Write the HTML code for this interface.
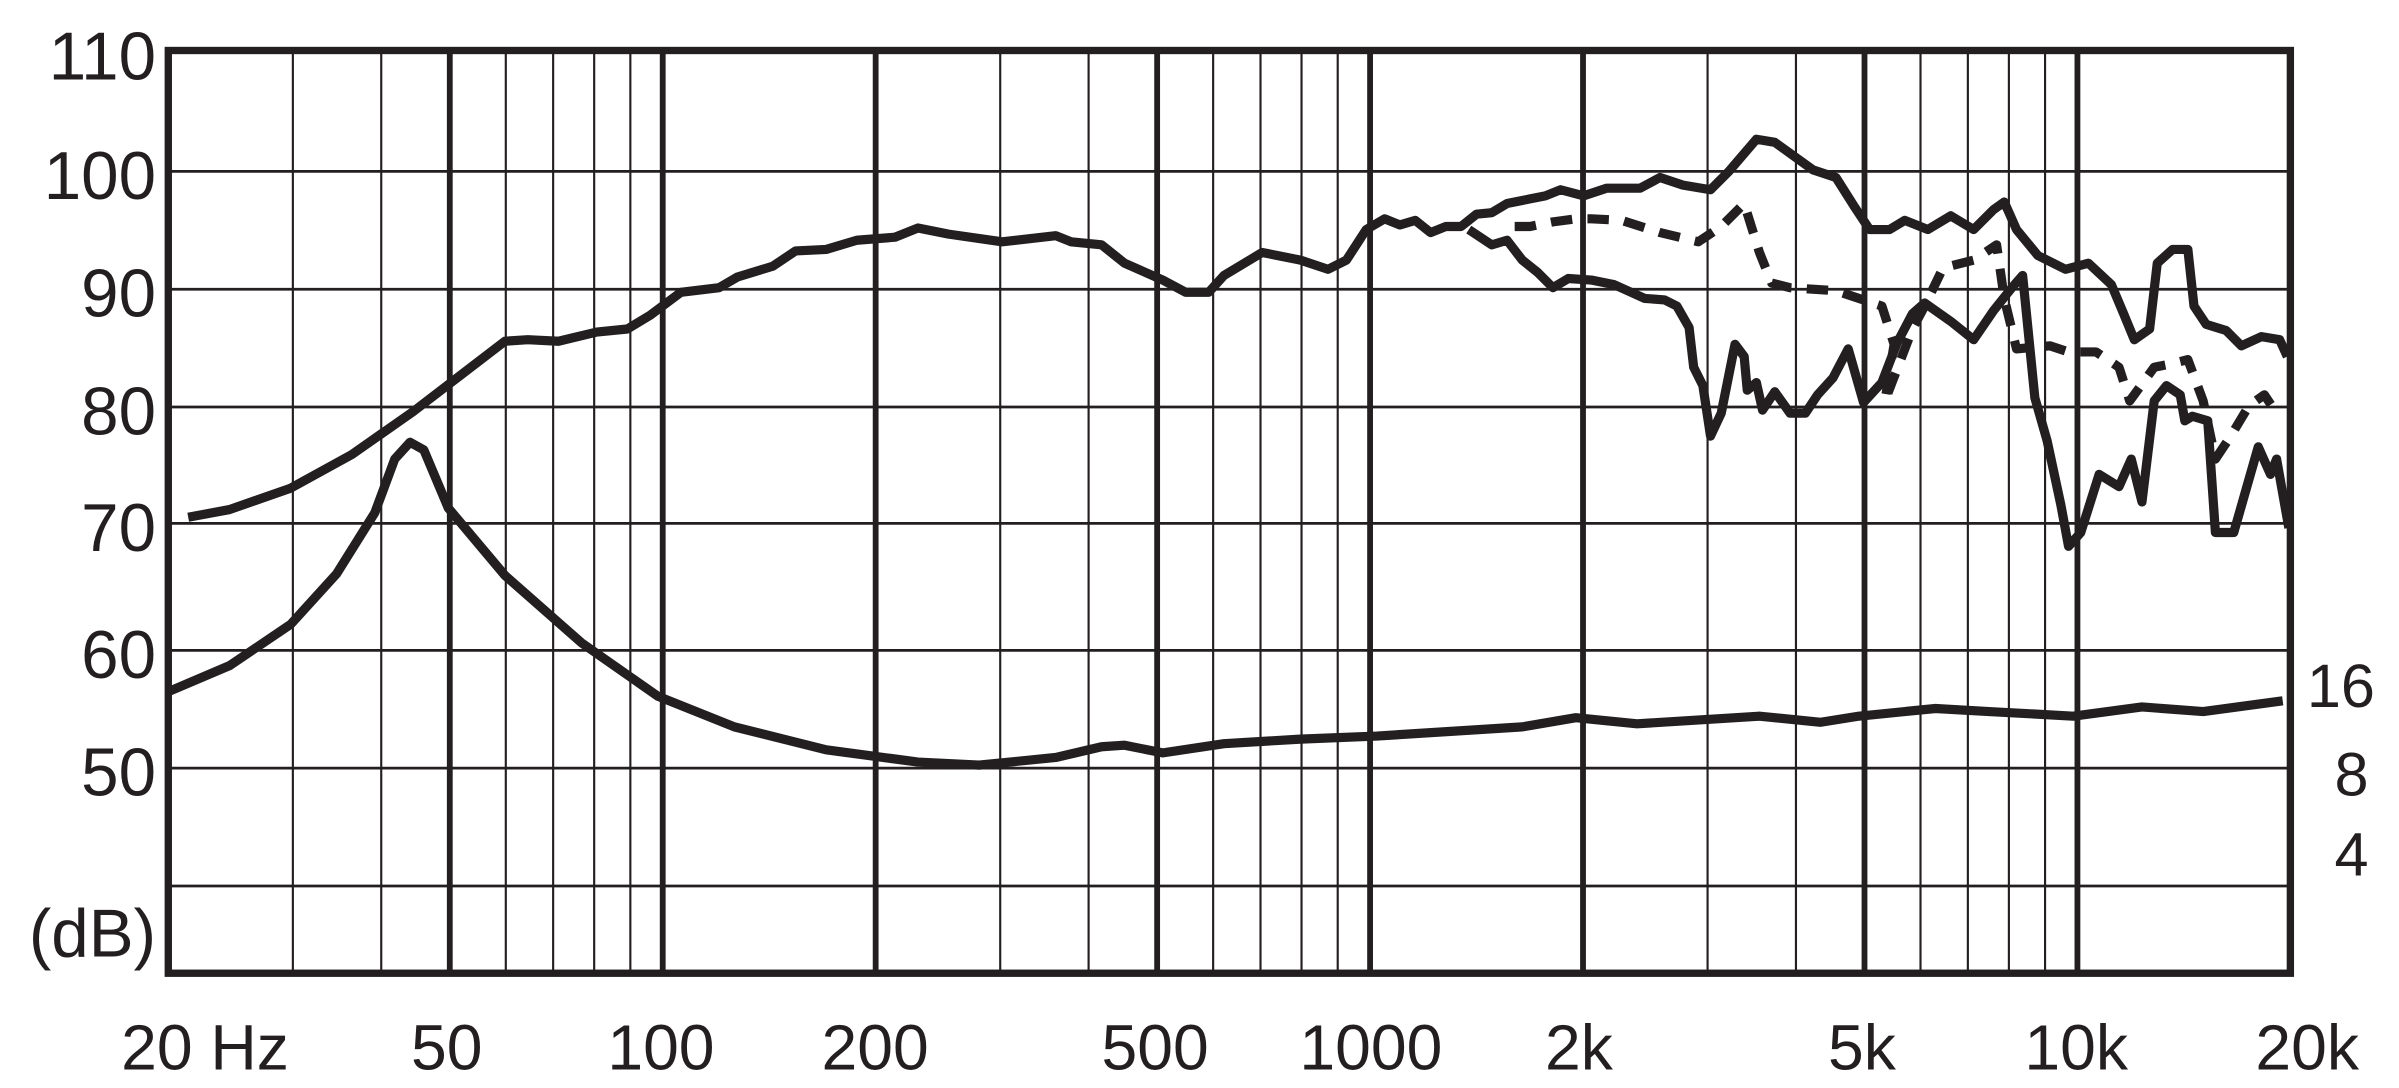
<!DOCTYPE html>
<html><head><meta charset="utf-8"><style>
html,body{margin:0;padding:0;background:#fff;}
svg{display:block;}
text{font-family:"Liberation Sans",sans-serif;fill:#231f20;}
</style></head><body>
<svg id="s" width="2399" height="1088" viewBox="0 0 1568 711" preserveAspectRatio="none" xmlns="http://www.w3.org/2000/svg">
<g id="grid" stroke="#231f20" fill="none"></g>
<g font-size="44" text-anchor="end">
<text x="102" y="52">110</text>
<text x="102" y="130">100</text>
<text x="102" y="207">90</text>
<text x="102" y="284">80</text>
<text x="102" y="360">70</text>
<text x="102" y="443">60</text>
<text x="102" y="520">50</text>
<text x="102" y="625">(dB)</text>
</g>
<g font-size="42" text-anchor="middle">
<text x="134" y="699">20 Hz</text>
<text x="292" y="699">50</text>
<text x="432" y="699">100</text>
<text x="572" y="699">200</text>
<text x="755" y="699">500</text>
<text x="896" y="699">1000</text>
<text x="1032" y="699">2k</text>
<text x="1217" y="699">5k</text>
<text x="1357" y="699">10k</text>
<text x="1508" y="699">20k</text>
</g>
<g font-size="40" text-anchor="middle">
<text x="1530" y="462">16</text>
<text x="1537" y="520">8</text>
<text x="1537" y="572">4</text>
</g>
<g fill="none" stroke="#231f20" stroke-width="6" stroke-linejoin="round" stroke-linecap="butt">
<polyline points="123,338 150,333 190,319 230,297 270,269 300,246 330,223 345,222 365,223 390,217 410,215 425,206 445,191 470,188 482,181 505,174 520,164 540,163 560,157 585,155 600,149 620,153 655,158 690,154 700,158 720,160 735,172 760,183 775,191 790,191 800,180 825,165 850,170 868,176 880,170 893,150 905,143 915,147 925,144 935,152 945,148 955,148 965,140 975,139 985,133 1000,130 1010,128 1020,124 1035,128 1050,123 1072,123 1085,116 1100,121 1118,124 1130,112 1148,91 1160,93 1185,111 1200,116 1212,135 1222,150 1235,150 1245,144 1260,150 1275,141 1290,150 1303,137 1310,132 1318,150 1332,167 1350,176 1365,172 1380,186 1388,205 1395,222 1405,215 1410,172 1420,163 1430,163 1434,200 1442,212 1455,216 1465,226 1478,220 1490,222 1495,233"/>
<polyline points="960,150 975,160 985,157 995,170 1005,178 1015,188 1025,182 1040,183 1055,186 1075,195 1088,196 1096,200 1104,214 1107,240 1113,252 1118,285 1125,270 1130,245 1134,225 1140,233 1142,255 1148,250 1152,268 1160,256 1170,270 1180,270 1188,258 1198,247 1208,228 1218,263 1230,250 1240,224 1250,205 1258,198 1275,210 1290,222 1303,203 1315,188 1322,180 1330,260 1338,288 1347,330 1352,357 1360,348 1372,310 1385,318 1393,300 1400,328 1408,262 1416,252 1425,258 1428,275 1433,272 1443,275 1448,348 1460,348 1468,320 1476,292 1484,310 1488,300 1496,345"/>
<polyline stroke-dasharray="14 10" points="990,148 1000,148 1015,145 1030,143 1040,143 1060,144 1085,152 1110,158 1125,148 1140,133 1150,165 1158,185 1170,188 1200,190 1230,200 1238,225 1232,262 1250,215 1258,200 1270,175 1290,170 1305,160 1310,195 1318,228 1340,226 1352,230 1370,230 1385,240 1392,262 1408,240 1418,238 1430,235 1440,262 1448,300 1458,285 1470,265 1480,258 1488,270"/>
<polyline points="110,452 150,435 190,408 220,375 245,335 258,300 268,289 277,294 293,332 330,376 380,420 430,455 480,475 540,490 600,498 640,500 690,495 720,488 735,487 760,492 800,486 850,483 900,481 995,475 1030,469 1070,473 1150,468 1190,472 1215,468 1265,463 1300,465 1355,468 1400,462 1440,465 1492,458"/>
</g>
</svg>
<script>
(function(){
var g=document.getElementById('grid');
var L=110,R=1497,T=33,B=636;
function fx(f){return L+(R-L)*Math.log10(f/20)/3;}
var ys=[33,112,189,266,342,425,502,579];
var h='';
ys.forEach(function(y){h+='<line x1="'+L+'" x2="'+R+'" y1="'+y+'" y2="'+y+'" stroke-width="1.8"/>';});
var thin=[30,40,60,70,80,90,300,400,600,700,800,900,3000,4000,6000,7000,8000,9000];
var thick=[50,100,200,500,1000,2000,5000,10000];
thin.forEach(function(f){var x=fx(f);h+='<line x1="'+x+'" x2="'+x+'" y1="'+T+'" y2="'+B+'" stroke-width="1.4"/>';});
thick.forEach(function(f){var x=fx(f);h+='<line x1="'+x+'" x2="'+x+'" y1="'+T+'" y2="'+B+'" stroke-width="3.8"/>';});
h+='<rect x="'+L+'" y="'+T+'" width="'+(R-L)+'" height="'+(B-T)+'" stroke-width="4.8"/>';
g.innerHTML=h;
})();
</script>
</body></html>
